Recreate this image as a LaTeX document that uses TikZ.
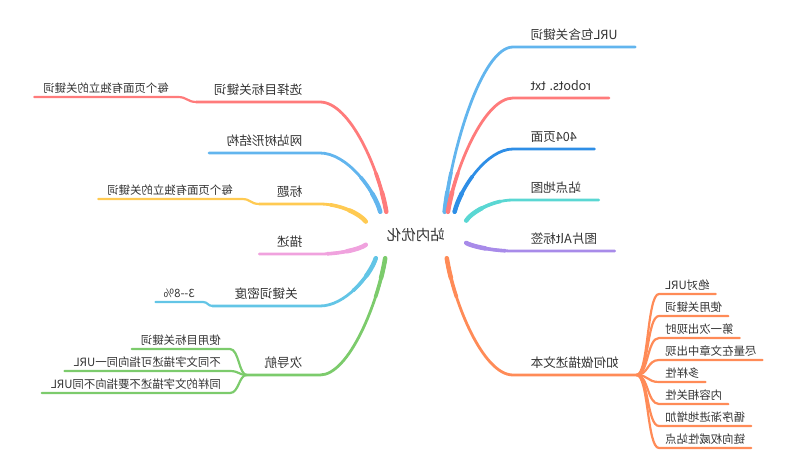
\documentclass[tikz,border=0pt]{standalone}
\usepackage{fontspec}
\newfontfamily\cjkfont{Noto Sans CJK SC}
\usepackage{xcolor}
\definecolor{textDark}{HTML}{333333}
\definecolor{redLine}{HTML}{FF7B7B}
\definecolor{blueLine}{HTML}{62B5EE}
\definecolor{yellowLine}{HTML}{FFCA52}
\definecolor{pinkLine}{HTML}{F0A2DE}
\definecolor{skyLine}{HTML}{63C5E6}
\definecolor{greenLine}{HTML}{7CCB6C}
\definecolor{deepBlueLine}{HTML}{2E8EE6}
\definecolor{cyanLine}{HTML}{5AD7D3}
\definecolor{purpleLine}{HTML}{A88BE9}
\definecolor{orangeLine}{HTML}{FF8B57}
\usepackage{tikz}
\tikzset{%
  rootText/.style={%
    rectangle,
    minimum width=100pt,
    minimum height=46pt,
    inner sep=0pt,
    text=textDark,
    font=\cjkfont\fontsize{14.5}{17}\selectfont
  },
  topicText/.style={%
    text=textDark,
    inner xsep=17.5pt,
    inner ysep=5.7pt,
    text height=10pt,
    text depth=2pt,
    font=\cjkfont\fontsize{12.6}{15}\selectfont
  },
  leafText/.style={%
    text=textDark,
    inner xsep=9pt,
    inner ysep=2.2pt,
    text height=9pt,
    text depth=2pt,
    font=\cjkfont\fontsize{11.4}{13}\selectfont
  },
  branchLine/.style={%
    line width=2.8pt,
    line cap=round,
    postaction={draw, line width=3.6pt, dash pattern=on 40pt off 2000pt},
    postaction={draw, line width=4.5pt, dash pattern=on 20pt off 2000pt}
  },
  leafLine/.style={%
    line width=2.2pt,
    line cap=round
  }
}

\begin{document}
\begin{tikzpicture}[x=1pt, y=-1pt, xscale=-1, every node/.append style={transform shape}]
  \useasboundingbox (0,0) rectangle (800,469);

  \node[rootText] (root) at (384,235) {站内优化};

  % branches on the one side
  \node[topicText, anchor=south west] (goal) at (480,102) {选择目标关键词};
  \node[topicText, anchor=south west] (tree) at (480,153) {网站树形结构};
  \node[topicText, anchor=south west] (title) at (480,204) {标题};
  \node[topicText, anchor=south west] (descr) at (480,254) {描述};
  \node[topicText, anchor=south west, minimum width=107pt] (density) at (480,306) {关键词密度};
  \node[topicText, anchor=south west] (subnav) at (480,375) {次导航};

  \draw[branchLine, redLine] (root.38) .. controls +(7,-42) and +(-30,0) .. (goal.south west) -- (goal.south east);
  \draw[branchLine, blueLine] (root.33) .. controls +(6,-22) and +(-27,0) .. (tree.south west) -- (tree.south east);
  \draw[branchLine, yellowLine] (root.15) .. controls +(5,-7) and +(-21,0) .. (title.south west) -- (title.south east);
  \draw[branchLine, pinkLine] (root.349) .. controls +(5,4) and +(-21,0) .. (descr.south west) -- (descr.south east);
  \draw[branchLine, skyLine] (root.330) .. controls +(6,18) and +(-25,0) .. (density.south west) -- (density.south east);
  \draw[branchLine, greenLine] (root.323) .. controls +(7,44) and +(-29,0) .. (subnav.south west) -- (subnav.south east);

  \node[leafText, anchor=south west] (goalA) at (622,97) {每个页面有独立的关键词};
  \draw[leafLine, redLine] (goal.south east) .. controls +(9,0) and +(-9,0) .. (goalA.south west) -- (goalA.south east);

  \node[leafText, anchor=south west] (titleA) at (558,199) {每个页面有独立的关键词};
  \draw[leafLine, yellowLine] (title.south east) .. controls +(9,0) and +(-9,0) .. (titleA.south west) -- (titleA.south east);

  \node[leafText, anchor=south west, inner xsep=8pt] (densityA) at (597,302) {3-{}-8\%};
  \draw[leafLine, skyLine] (density.south east) .. controls +(5,0) and +(-5,0) .. (densityA.south west) -- (densityA.south east);

  \foreach \y/\txt [count=\i] in {349/使用目标关键词, 371/不同文字描述可指向同一URL, 393/同样的文字描述不要指向不同URL} {
    \node[leafText, anchor=south west] (subnav\i) at (570,\y) {\txt};
    \draw[leafLine, greenLine] (subnav.south east) .. controls +(8,0) and +(-9,0) .. (subnav\i.south west) -- (subnav\i.south east);
  }

  % branches on the other side
  \node[topicText, anchor=south east] (url) at (287,47) {URL包含关键词};
  \node[topicText, anchor=south east] (robots) at (287,98) {robots. txt};
  \node[topicText, anchor=south east] (notfound) at (287,149) {404页面};
  \node[topicText, anchor=south east] (sitemap) at (287,200) {站点地图};
  \node[topicText, anchor=south east] (alt) at (287,251) {图片Alt标签};
  \node[topicText, anchor=south east] (anchor) at (287,375) {如何做描述文本};

  \draw[branchLine, blueLine] (root.141) .. controls +(-7,-63) and +(31,0) .. (url.south east) -- (url.south west);
  \draw[branchLine, redLine] (root.144) .. controls +(-7,-43) and +(29,0) .. (robots.south east) -- (robots.south west);
  \draw[branchLine, deepBlueLine] (root.149) .. controls +(-6,-24) and +(26,0) .. (notfound.south east) -- (notfound.south west);
  \draw[branchLine, cyanLine] (root.164) .. controls +(-5,-8) and +(21,0) .. (sitemap.south east) -- (sitemap.south west);
  \draw[branchLine, purpleLine] (root.189) .. controls +(-5,3) and +(21,0) .. (alt.south east) -- (alt.south west);
  \draw[branchLine, orangeLine] (root.217) .. controls +(-7,44) and +(30,0) .. (anchor.south east) -- (anchor.south west);

  \foreach \txt [count=\i] in {绝对URL, 使用关键词, 第一次出现时, 尽量在文章中出现, 多样性, 内容相关性, 循序渐进地增加, 链向权威性站点} {
    \node[leafText, anchor=south east, inner xsep=6pt] (anchor\i) at (141,272+22*\i) {\txt};
    \draw[leafLine, orangeLine] (anchor.south west) .. controls +(-12,0) and +(12,0) .. (anchor\i.south east) -- (anchor\i.south west);
  }
\end{tikzpicture}
\end{document}
